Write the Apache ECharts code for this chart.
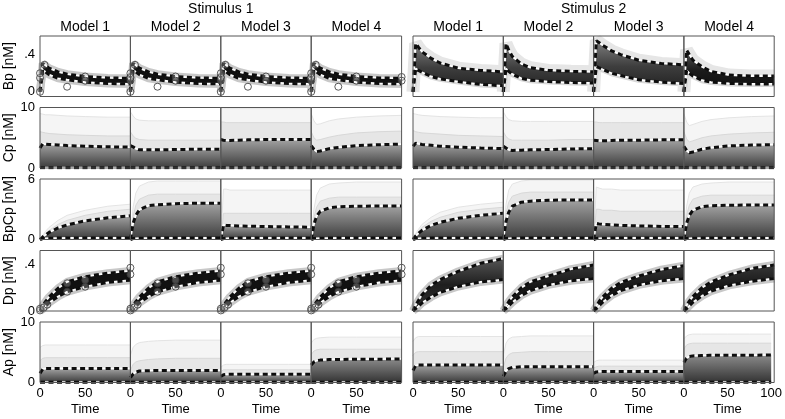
<!DOCTYPE html>
<html><head><meta charset="utf-8">
<script src="https://cdn.jsdelivr.net/npm/echarts@6/dist/echarts.min.js"></script>
<style>html,body{margin:0;padding:0;background:#fff}#c{width:785px;height:419px}</style>
</head><body><div id="c"></div>
<script>
// ---------- data ----------
const T = [0, 3, 6, 10, 20, 30, 50, 75, 100];
const stimulusNames = ['Stimulus 1', 'Stimulus 2'];
const modelNames = ['Model 1', 'Model 2', 'Model 3', 'Model 4'];
const rowNames = ['Bp [nM]', 'Cp [nM]', 'BpCp [nM]', 'Dp [nM]', 'Ap [nM]'];
const yMins = [-0.05, 0, 0, 0, 0];
const yMaxs = [0.6, 10, 6, 0.52, 10];
const ySteps = [0.05, 10, 6, 0.04, 10];
const yTickValues = [[0, 0.4], [0, 10], [0, 6], [0, 0.4], [0, 10]];
const yTickLabels = [['0', '.4'], ['0', '10'], ['0', '6'], ['0', '.4'], ['0', '10']];
const xTickValues = [0, 50, 100];
const xTickLabels = ['0', '50', '100'];

// Bp, stimulus 1 (ensemble percentiles, same for every model) and measured data
const bpS1Upper = [0, 0.305, 0.285, 0.255, 0.215, 0.19, 0.165, 0.15, 0.145];
const bpS1Lower = [0, 0.235, 0.215, 0.185, 0.145, 0.13, 0.105, 0.09, 0.085];
const bpS1Data = [[0, 0], [0, 0.15], [0, 0.2], [5, 0.29], [30, 0.055], [50, 0.165], [50, 0.12], [100, 0.16], [100, 0.12]];
// Bp, stimulus 2
const bpS2Upper = [
  [0, 0.52, 0.48, 0.43, 0.36, 0.31, 0.255, 0.23, 0.215],
  [0, 0.52, 0.45, 0.38, 0.30, 0.26, 0.23, 0.22, 0.215],
  [0, 0.55, 0.53, 0.50, 0.44, 0.40, 0.34, 0.305, 0.29],
  [0, 0.45, 0.40, 0.34, 0.27, 0.22, 0.18, 0.17, 0.17]];
const bpS2Lower = [
  [0, 0.25, 0.23, 0.21, 0.165, 0.14, 0.11, 0.08, 0.065],
  [0, 0.25, 0.22, 0.19, 0.145, 0.125, 0.11, 0.10, 0.095],
  [0, 0.27, 0.26, 0.24, 0.20, 0.175, 0.13, 0.105, 0.09],
  [0, 0.23, 0.20, 0.17, 0.125, 0.105, 0.09, 0.085, 0.085]];

// Cp
const cpLower = [0.05, 0.05, 0.05, 0.05, 0.05, 0.05, 0.05, 0.05, 0.05];
const cpS1Upper = [
  [3.3, 4.0, 3.95, 3.9, 3.8, 3.7, 3.6, 3.5, 3.45],
  [3.7, 3.5, 3.2, 3.0, 3.0, 3.0, 3.05, 3.1, 3.1],
  [4.7, 4.6, 4.55, 4.55, 4.6, 4.65, 4.7, 4.7, 4.7],
  [3.7, 3.1, 2.7, 2.8, 3.2, 3.4, 3.7, 3.85, 3.95]];
const cpS1Mid = [
  [6.0, 5.9, 5.8, 5.7, 5.6, 5.5, 5.4, 5.3, 5.3],
  [6.0, 5.3, 4.9, 4.7, 4.6, 4.6, 4.6, 4.6, 4.6],
  [7.6, 7.6, 7.5, 7.5, 7.5, 7.5, 7.5, 7.5, 7.5],
  [6.0, 5.0, 4.6, 4.7, 5.1, 5.4, 5.8, 6.0, 6.1]];
const cpS1Max = [
  [9.0, 8.9, 8.8, 8.8, 8.7, 8.6, 8.5, 8.4, 8.4],
  [9.3, 8.6, 8.1, 7.9, 7.8, 7.8, 7.8, 7.8, 7.8],
  [9.8, 9.8, 9.8, 9.8, 9.8, 9.8, 9.8, 9.8, 9.8],
  [9.0, 7.8, 7.2, 7.3, 7.8, 8.1, 8.4, 8.6, 8.7]];
const cpS2Upper = [
  [3.6, 4.1, 4.0, 3.9, 3.75, 3.6, 3.45, 3.3, 3.2],
  [3.6, 3.3, 3.0, 2.9, 2.95, 3.0, 3.05, 3.15, 3.2],
  [4.6, 4.55, 4.5, 4.5, 4.55, 4.6, 4.6, 4.65, 4.65],
  [3.6, 2.9, 2.5, 2.65, 3.1, 3.35, 3.65, 3.8, 3.85]];
const cpS2Mid = [
  [6.2, 6.0, 5.9, 5.8, 5.7, 5.6, 5.4, 5.3, 5.2],
  [6.0, 5.2, 4.8, 4.6, 4.6, 4.6, 4.6, 4.7, 4.7],
  [7.6, 7.6, 7.5, 7.5, 7.5, 7.5, 7.5, 7.5, 7.5],
  [6.0, 4.8, 4.3, 4.5, 5.0, 5.3, 5.6, 5.8, 5.9]];
const cpS2Max = [
  [9.0, 8.9, 8.8, 8.7, 8.6, 8.5, 8.4, 8.3, 8.3],
  [9.3, 8.5, 8.0, 7.8, 7.7, 7.7, 7.7, 7.7, 7.7],
  [9.8, 9.8, 9.8, 9.8, 9.8, 9.8, 9.8, 9.8, 9.8],
  [9.0, 7.6, 7.0, 7.2, 7.7, 8.0, 8.3, 8.5, 8.6]];

// BpCp
const bpcpLower = [0, 0.1, 0.12, 0.13, 0.14, 0.15, 0.15, 0.15, 0.15];
const bpcpS1Upper = [
  [0, 0.25, 0.45, 0.7, 1.15, 1.45, 1.85, 2.15, 2.35],
  [0, 1.6, 2.4, 2.95, 3.35, 3.45, 3.55, 3.6, 3.6],
  [0, 1.45, 1.4, 1.38, 1.35, 1.32, 1.28, 1.25, 1.22],
  [0, 1.5, 2.3, 2.8, 3.15, 3.25, 3.3, 3.32, 3.33]];
const bpcpS1Mid = [
  [0, 0.3, 0.6, 0.9, 1.5, 1.9, 2.4, 2.8, 3.0],
  [0, 2.3, 3.4, 4.0, 4.4, 4.5, 4.5, 4.5, 4.5],
  [0, 2.6, 2.6, 2.6, 2.6, 2.6, 2.6, 2.6, 2.6],
  [0, 2.2, 3.2, 3.8, 4.1, 4.2, 4.2, 4.2, 4.2]];
const bpcpS1Max = [
  [0, 0.4, 0.8, 1.2, 1.9, 2.4, 2.9, 3.3, 3.5],
  [0, 3.2, 4.6, 5.3, 5.7, 5.8, 5.8, 5.8, 5.8],
  [0, 5.0, 5.0, 4.9, 4.9, 4.9, 4.9, 4.9, 4.9],
  [0, 3.0, 4.4, 5.1, 5.5, 5.6, 5.7, 5.7, 5.7]];
const bpcpS2Upper = [
  [0, 0.35, 0.6, 0.9, 1.4, 1.7, 2.1, 2.4, 2.6],
  [0, 1.8, 2.7, 3.3, 3.7, 3.8, 3.9, 3.92, 3.92],
  [0, 1.6, 1.55, 1.5, 1.45, 1.4, 1.35, 1.3, 1.28],
  [0, 1.6, 2.4, 2.9, 3.25, 3.35, 3.4, 3.42, 3.42]];
const bpcpS2Mid = [
  [0, 0.45, 0.8, 1.2, 1.8, 2.2, 2.7, 3.0, 3.2],
  [0, 2.6, 3.7, 4.3, 4.6, 4.7, 4.7, 4.7, 4.7],
  [0, 3.0, 3.0, 2.9, 2.9, 2.8, 2.8, 2.8, 2.8],
  [0, 2.4, 3.4, 4.0, 4.3, 4.4, 4.4, 4.4, 4.4]];
const bpcpS2Max = [
  [0, 0.6, 1.0, 1.5, 2.2, 2.7, 3.2, 3.5, 3.7],
  [0, 3.5, 4.9, 5.5, 5.8, 5.9, 5.9, 5.9, 5.9],
  [0, 5.2, 5.1, 5.0, 5.0, 4.9, 4.9, 4.9, 4.9],
  [0, 3.3, 4.6, 5.2, 5.5, 5.6, 5.7, 5.7, 5.7]];

// Dp
const dpS1Upper = [0, 0.045, 0.08, 0.12, 0.195, 0.25, 0.295, 0.325, 0.345];
const dpS1Lower = [0, 0.015, 0.04, 0.07, 0.125, 0.165, 0.21, 0.245, 0.265];
const dpS1Data = [[0, 0.005], [0, 0.02], [4, 0.03], [8, 0.055], [30, 0.238], [30, 0.166], [50, 0.266], [50, 0.209], [100, 0.372], [100, 0.315]];
const dpS2Upper = [
  [0, 0.05, 0.09, 0.14, 0.22, 0.27, 0.34, 0.41, 0.45],
  [0, 0.04, 0.08, 0.12, 0.20, 0.25, 0.30, 0.36, 0.395],
  [0, 0.04, 0.08, 0.12, 0.195, 0.245, 0.30, 0.355, 0.39],
  [0, 0.045, 0.085, 0.125, 0.20, 0.25, 0.31, 0.365, 0.395]];
const dpS2Lower = [
  [0, 0.02, 0.04, 0.07, 0.12, 0.16, 0.21, 0.25, 0.27],
  [0, 0.02, 0.045, 0.075, 0.135, 0.175, 0.225, 0.26, 0.28],
  [0, 0.02, 0.045, 0.075, 0.135, 0.175, 0.225, 0.26, 0.28],
  [0, 0.02, 0.045, 0.075, 0.13, 0.17, 0.22, 0.255, 0.28]];

// Ap
const apLower = [0.05, 0.05, 0.05, 0.05, 0.05, 0.05, 0.05, 0.05, 0.05];
const apS1Upper = [
  [1.5, 2.2, 2.3, 2.3, 2.3, 2.3, 2.3, 2.3, 2.3],
  [0.8, 1.4, 1.7, 1.9, 1.95, 2.0, 2.0, 2.0, 2.0],
  [1.0, 1.3, 1.35, 1.35, 1.35, 1.35, 1.35, 1.35, 1.35],
  [2.9, 3.4, 3.6, 3.7, 3.8, 3.8, 3.85, 3.85, 3.9]];
const apS1Mid = [
  [3.6, 4.0, 4.1, 4.1, 4.1, 4.1, 4.1, 4.1, 4.1],
  [2.0, 3.0, 3.4, 3.6, 3.8, 3.9, 4.0, 4.0, 4.0],
  [1.8, 2.1, 2.1, 2.1, 2.1, 2.1, 2.1, 2.1, 2.1],
  [4.6, 5.2, 5.4, 5.5, 5.5, 5.5, 5.5, 5.5, 5.5]];
const apS1Max = [
  [5.8, 6.1, 6.2, 6.2, 6.2, 6.2, 6.2, 6.2, 6.2],
  [4.5, 5.8, 6.3, 6.6, 6.8, 6.9, 7.0, 7.0, 7.0],
  [2.5, 2.9, 3.0, 3.0, 3.0, 3.0, 3.0, 3.0, 3.0],
  [6.5, 7.1, 7.3, 7.4, 7.5, 7.5, 7.5, 7.5, 7.5]];
const apS2Upper = [
  [2.0, 2.8, 2.9, 2.9, 2.9, 2.9, 2.9, 2.9, 2.9],
  [1.0, 1.9, 2.3, 2.5, 2.6, 2.6, 2.6, 2.6, 2.6],
  [1.5, 1.75, 1.8, 1.8, 1.8, 1.8, 1.8, 1.8, 1.8],
  [3.3, 4.0, 4.3, 4.4, 4.45, 4.5, 4.5, 4.5, 4.55]];
const apS2Mid = [
  [4.5, 5.0, 5.1, 5.1, 5.1, 5.1, 5.1, 5.1, 5.1],
  [2.5, 4.0, 4.6, 4.9, 5.0, 5.1, 5.1, 5.1, 5.1],
  [2.4, 2.6, 2.7, 2.7, 2.7, 2.7, 2.7, 2.7, 2.7],
  [5.5, 6.2, 6.4, 6.5, 6.5, 6.5, 6.5, 6.5, 6.5]];
const apS2Max = [
  [6.8, 7.4, 7.6, 7.6, 7.6, 7.6, 7.6, 7.6, 7.6],
  [4.5, 6.5, 7.2, 7.5, 7.6, 7.7, 7.7, 7.7, 7.7],
  [3.3, 3.6, 3.7, 3.7, 3.7, 3.7, 3.7, 3.7, 3.7],
  [7.2, 7.7, 7.9, 8.0, 8.0, 8.0, 8.0, 8.0, 8.0]];

// ---------- layout & style ----------
const FONT = "'Liberation Sans', Arial, Helvetica, sans-serif";
const colLeft = [40, 130.4, 220.8, 311.2, 413, 503.3, 593.6, 683.9];
const colWidth = [90.4, 90.3];
const rowTop = [36, 107.5, 179, 250.5, 322];
const rowHeight = 60.5;

function panelData(r, s, m) {
  if (r === 0) return s === 0 ? {up: bpS1Upper, lo: bpS1Lower, pts: bpS1Data} : {up: bpS2Upper[m], lo: bpS2Lower[m]};
  if (r === 3) return s === 0 ? {up: dpS1Upper, lo: dpS1Lower, pts: dpS1Data} : {up: dpS2Upper[m], lo: dpS2Lower[m]};
  if (r === 1) return {up: [cpS1Upper, cpS2Upper][s][m], mid: [cpS1Mid, cpS2Mid][s][m], max: [cpS1Max, cpS2Max][s][m], lo: cpLower};
  if (r === 2) return {up: [bpcpS1Upper, bpcpS2Upper][s][m], mid: [bpcpS1Mid, bpcpS2Mid][s][m], max: [bpcpS1Max, bpcpS2Max][s][m], lo: bpcpLower};
  return {up: [apS1Upper, apS2Upper][s][m], mid: [apS1Mid, apS2Mid][s][m], max: [apS1Max, apS2Max][s][m], lo: apLower};
}
const pairs = arr => arr.map((v, i) => [T[i], v]);
const grad = stops => new echarts.graphic.LinearGradient(0, 0, 0, 1, stops.map((c, i) => ({offset: i / (stops.length - 1), color: c})));
const SMOOTH = false;

function dashed(data, g, list) {
  list.push({type: 'line', z: 4, xAxisIndex: g, yAxisIndex: g, data: data, smooth: SMOOTH, symbol: 'none', silent: true,
    lineStyle: {color: '#fff', width: 1.8}});
  list.push({type: 'line', z: 5, xAxisIndex: g, yAxisIndex: g, data: data, smooth: SMOOTH, symbol: 'none', silent: true,
    lineStyle: {color: '#0d0d0d', width: 3, type: [5, 3.5], cap: 'butt'}});
}
// filled band between a lower and an upper curve, positioned through the axes
function band(up, lo, g, fill) {
  return {type: 'custom', z: 3, xAxisIndex: g, yAxisIndex: g, silent: true, clip: true,
    data: [[T[0], lo[0]]],
    renderItem: (params, api) => {
      const pts = up.map((v, i) => api.coord([T[i], v]))
        .concat(lo.map((v, i) => api.coord([T[i], v])).reverse());
      return {type: 'polygon', shape: {points: pts}, style: {fill: fill}};
    }};
}

const grids = [], xAxes = [], yAxes = [], series = [], graphics = [];
let g = 0;
for (let r = 0; r < 5; r++) {
  for (let s = 0; s < 2; s++) {
    for (let m = 0; m < 4; m++) {
      const c = s * 4 + m;
      const isLast = (c === 7);
      grids.push({left: colLeft[c], top: rowTop[r], width: colWidth[s], height: rowHeight});
      xAxes.push({gridIndex: g, type: 'value', min: 0, max: 100, interval: 50,
        axisLine: {show: false}, axisTick: {show: false}, splitLine: {show: false},
        axisLabel: {show: r === 4, margin: 4, color: '#000', fontSize: 13, fontFamily: FONT,
          showMaxLabel: isLast,
          formatter: v => { const i = xTickValues.indexOf(v); return (i === 2 && !isLast) ? '' : (i >= 0 ? xTickLabels[i] : ''); }},
        name: r === 4 ? 'Time' : '', nameLocation: 'middle', nameGap: 20,
        nameTextStyle: {color: '#000', fontSize: 13, fontFamily: FONT}});
      const rr = r;
      yAxes.push({gridIndex: g, type: 'value', min: yMins[r], max: yMaxs[r], interval: ySteps[r],
        axisLine: {show: false}, axisTick: {show: false}, splitLine: {show: false},
        axisLabel: {show: c === 0, margin: 5, color: '#000', fontSize: 13, fontFamily: FONT,
          showMinLabel: true, showMaxLabel: true,
          formatter: v => { const i = yTickValues[rr].findIndex(t => Math.abs(t - v) < 1e-6); return i >= 0 ? yTickLabels[rr][i] : ''; }},
        name: c === 0 ? rowNames[r] : '', nameLocation: 'middle', nameRotate: 90, nameGap: 24,
        nameTextStyle: {color: '#000', fontSize: 14, fontFamily: FONT}});

      const p = panelData(r, s, m);
      const base = {type: 'line', xAxisIndex: g, yAxisIndex: g, smooth: SMOOTH, symbol: 'none', silent: true};
      if (r === 0 || r === 3) {
        // halo of ensemble members around the percentile band
        const wideHalo = (s === 1 && r === 0);
        series.push(Object.assign({}, base, {z: 2, data: pairs(p.up), lineStyle: {color: wideHalo ? '#e6e6e6' : '#c8c8c8', width: wideHalo ? 13 : 8}}));
        series.push(Object.assign({}, base, {z: 2, data: pairs(p.lo), lineStyle: {color: wideHalo ? '#d8d8d8' : '#c8c8c8', width: wideHalo ? 6 : 8}}));
        let fill;
        if (s === 0) fill = '#111111';
        else if (r === 0) fill = (m === 3) ? grad(['#555555', '#1a1a1a', '#0e0e0e']) : grad(['#7e7e7e', '#3e3e3e', '#1e1e1e']);
        else fill = (m === 0) ? grad(['#555555', '#1e1e1e', '#333333']) : grad(['#363636', '#141414', '#222222']);
        series.push(band(p.up, p.lo, g, fill));
        dashed(pairs(p.lo), g, series);
        dashed(pairs(p.up), g, series);
        if (p.pts) {
          series.push({type: 'scatter', z: 6, xAxisIndex: g, yAxisIndex: g, data: p.pts, symbol: 'circle', symbolSize: 7,
            clip: false, silent: true,
            itemStyle: {color: 'rgba(255,255,255,0.3)', borderColor: '#333', borderWidth: 1}});
        }
      } else {
        series.push(Object.assign({}, base, {data: pairs(p.max), lineStyle: {color: '#e4e4e4', width: 1}, areaStyle: {color: '#f5f5f5', opacity: 1}}));
        series.push(Object.assign({}, base, {data: pairs(p.mid), lineStyle: {color: '#d8d8d8', width: 1}, areaStyle: {color: '#e6e6e6', opacity: 1}}));
        const dark = (r === 4 && m === 3) ? ['#8a8a8a', '#333333'] : ['#a2a2a2', '#3a3a3a'];
        series.push(Object.assign({}, base, {data: pairs(p.up), lineStyle: {opacity: 0}, areaStyle: {color: grad(dark), opacity: 1}}));
        dashed(pairs(p.lo), g, series);
        dashed(pairs(p.up), g, series);
      }
      graphics.push({type: 'rect', silent: true, z: 100,
        shape: {x: colLeft[c], y: rowTop[r], width: colWidth[s], height: rowHeight},
        style: {fill: 'transparent', stroke: '#555', lineWidth: 1}});
      g++;
    }
  }
}
// titles
stimulusNames.forEach((t, s) => {
  const x0 = colLeft[s * 4], x1 = colLeft[s * 4 + 3] + colWidth[s];
  graphics.push({type: 'text', silent: true, x: (x0 + x1) / 2, y: 9,
    style: {text: t, fill: '#000', font: '14px ' + FONT, textAlign: 'center', textVerticalAlign: 'middle'}});
});
for (let c = 0; c < 8; c++) {
  const s = c < 4 ? 0 : 1;
  graphics.push({type: 'text', silent: true, x: colLeft[c] + colWidth[s] / 2, y: 27,
    style: {text: modelNames[c % 4], fill: '#000', font: '14px ' + FONT, textAlign: 'center', textVerticalAlign: 'middle'}});
}

const chart = echarts.init(document.getElementById('c'));
chart.setOption({
  animation: false,
  backgroundColor: '#fff',
  grid: grids, xAxis: xAxes, yAxis: yAxes, series: series, graphic: graphics
});
</script></body></html>
